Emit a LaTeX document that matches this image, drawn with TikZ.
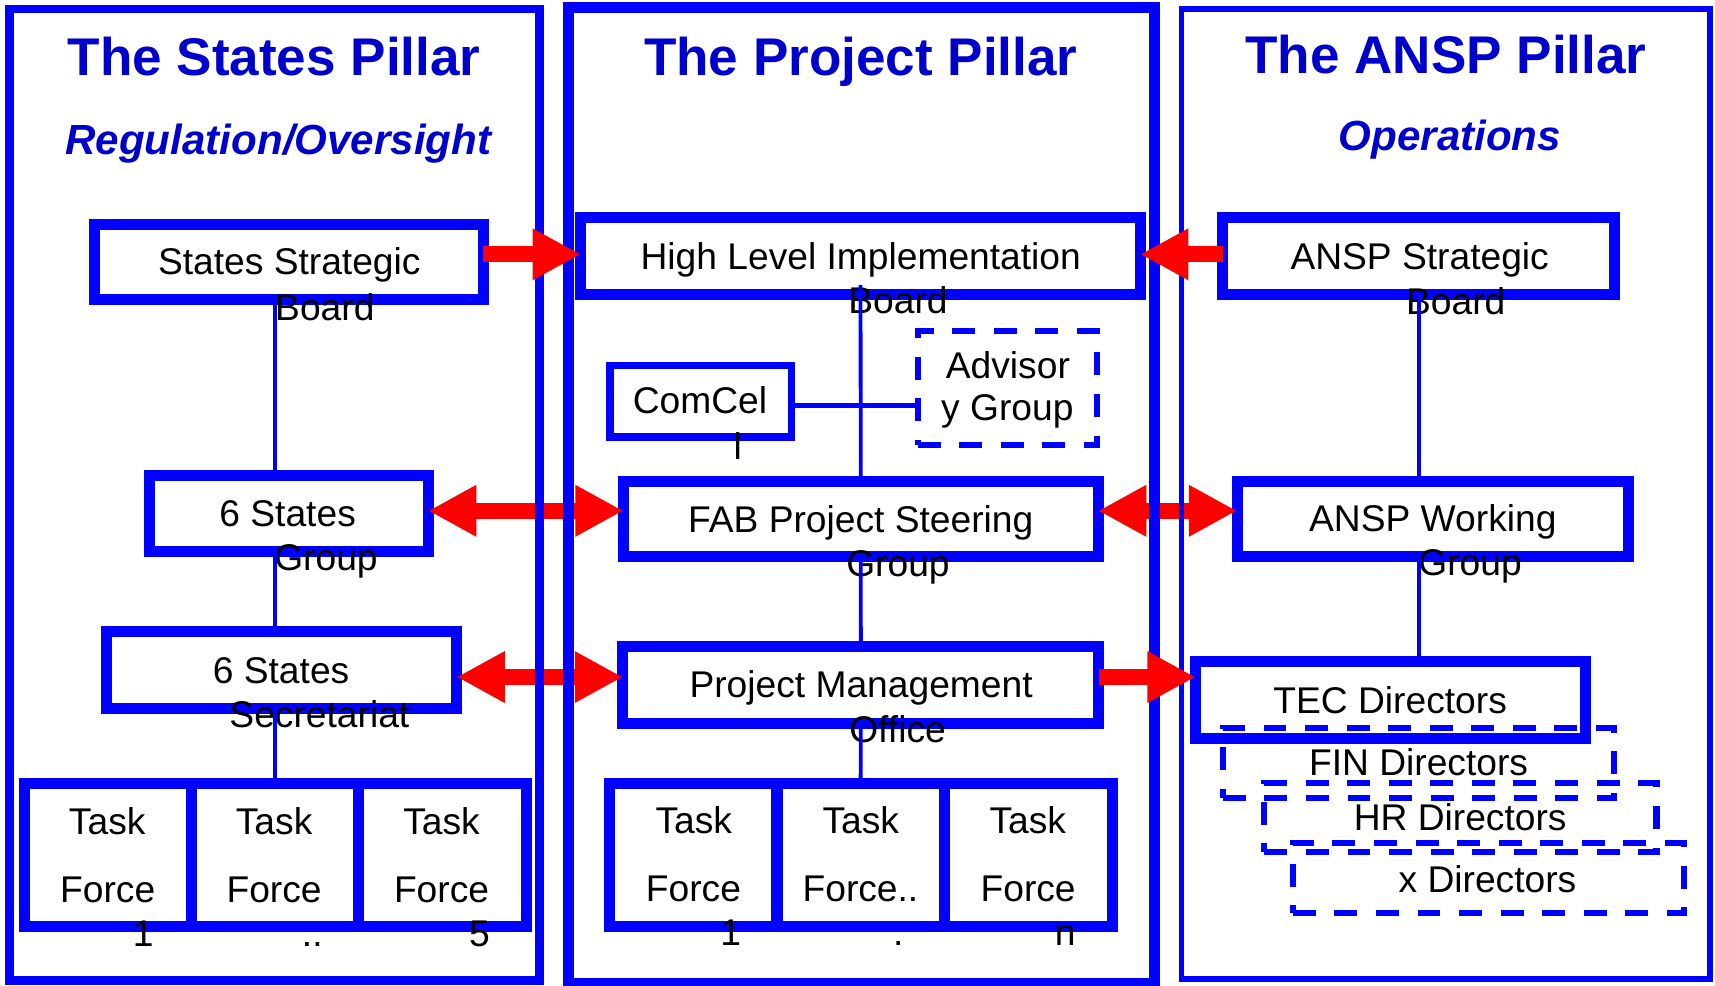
\documentclass[tikz,border=0pt]{standalone}
\usepackage{fontspec}
\setmainfont{Liberation Sans}
\usetikzlibrary{arrows.meta}
\definecolor{bxblue}{RGB}{0,0,255}
\definecolor{ttblue}{RGB}{0,0,204}
\definecolor{arred}{RGB}{255,0,0}
\begin{document}
\begin{tikzpicture}[x=1pt,y=-1pt,
  box/.style={draw=bxblue, line width=10pt, inner sep=0pt, outer sep=0pt},
  thinbox/.style={draw=bxblue, line width=7pt, inner sep=0pt, outer sep=0pt},
  dbox/.style={draw=bxblue, line width=5.5pt, inner sep=0pt, outer sep=0pt, dash pattern=on 21pt off 17pt},
  txt/.style={font=\fontsize{34}{41}\selectfont, anchor=base, inner sep=0pt, text=black},
  ttl/.style={font=\fontsize{48.5}{58}\selectfont\bfseries, anchor=base, inner sep=0pt, text=ttblue},
  sub/.style={font=\fontsize{38.5}{46}\selectfont\bfseries\itshape, anchor=base, inner sep=0pt, text=ttblue},
  conn/.style={draw=bxblue, line width=3.5pt},
  redar/.style={draw=arred, line width=14.5pt, >={Triangle[length=44pt,width=44pt]}},
  pillar/.style={draw=bxblue}
]
\useasboundingbox (0,0) rectangle (1568,900.6);

% ---------- titles ----------
\node[ttl] (t1) at (250.6,68.6) {The States Pillar};
\node[sub] (s1) at (254.5,140.8) {Regulation/Oversight};
\node[ttl] (t2) at (787,68.6) {The Project Pillar};
\node[ttl] (t3) at (1322,67) {The ANSP Pillar};
\node[sub] (s3) at (1325.6,138) {Operations};

% ---------- left pillar boxes ----------
\node[box, minimum width=356pt, minimum height=68.5pt] (ssb) at (264,239.75) {};
\node[box, minimum width=255pt, minimum height=70.1pt] (sg) at (264,469.55) {};
\node[box, minimum width=320pt, minimum height=70pt] (ss) at (257.5,612.5) {};
\node[box, minimum width=153pt, minimum height=131pt] (ltf1) at (98.5,781.5) {};
\node[box, minimum width=153pt, minimum height=131pt] (ltf2) at (251.5,781.5) {};
\node[box, minimum width=153pt, minimum height=131pt] (ltf3) at (404.5,781.5) {};

% ---------- middle pillar boxes ----------
\node[box, minimum width=511.5pt, minimum height=70pt] (hlib) at (786.75,234) {};
\node[thinbox, minimum width=166pt, minimum height=65.2pt] (cc) at (640.5,366.7) {};
\node[dbox, minimum width=164.4pt, minimum height=103.9pt] (adv) at (921.1,354.85) {};
\node[box, minimum width=434pt, minimum height=69.2pt] (fab) at (787,474.4) {};
\node[box, minimum width=435.1pt, minimum height=70.1pt] (pmo) at (787.05,626.55) {};
\node[box, minimum width=153pt, minimum height=130.7pt] (mtf1) at (633.95,781.85) {};
\node[box, minimum width=153pt, minimum height=130.7pt] (mtf2) at (786.85,781.85) {};
\node[box, minimum width=153pt, minimum height=130.7pt] (mtf3) at (940.25,781.85) {};

% ---------- right pillar boxes ----------
\node[box, minimum width=358.5pt, minimum height=70.6pt] (asb) at (1297.25,234.3) {};
\node[box, minimum width=357.6pt, minimum height=69.2pt] (awg) at (1309.8,474.4) {};
\node[dbox, minimum width=358pt, minimum height=64.2pt] (fin) at (1297,697.6) {};
\node[dbox, minimum width=358.5pt, minimum height=63.7pt] (hr) at (1335.25,747.55) {};
\node[dbox, minimum width=357.6pt, minimum height=64pt] (xd) at (1360.8,803) {};
\node[box, minimum width=357pt, minimum height=70pt] (tec) at (1271.5,640) {};

% ---------- texts ----------
\node[txt] (ssbA) at (264.5,251) {States Strategic};
\node[txt] (ssbB) at (297,292.6) {Board};
\node[txt] (sgA) at (263,481.5) {6 States};
\node[txt] (sgB) at (298,522) {Group};
\node[txt] (ssA) at (257,625) {6 States};
\node[txt] (ssB) at (292,665.5) {Secretariat};
\node[txt] (l1a) at (98,763) {Task};
\node[txt] (l2a) at (250.6,763) {Task};
\node[txt] (l3a) at (403.7,763) {Task};
\node[txt] (l1b) at (98.5,824.7) {Force};
\node[txt] (l2b) at (250.6,824.7) {Force};
\node[txt] (l3b) at (403.7,824.7) {Force};
\node[txt] (l1c) at (131,865.3) {1};
\node[txt] (l2c) at (285.5,865.3) {..};
\node[txt] (l3c) at (438.4,865.3) {5};

\node[txt] (hlA) at (787,246) {High Level Implementation};
\node[txt] (hlB) at (821,287) {Board};
\node[txt] (ccA) at (640,378.4) {ComCel};
\node[txt] (ccB) at (674.6,419.7) {l};
\node[txt] (adA) at (921.5,346.5) {Advisor};
\node[txt] (adB) at (921,384.6) {y Group};
\node[txt] (fbA) at (787,487) {FAB Project Steering};
\node[txt] (fbB) at (821,527.5) {Group};
\node[txt] (pmA) at (787.3,637.4) {Project Management};
\node[txt] (pmB) at (820.6,678.8) {Office};
\node[txt] (m1a) at (634.3,762.4) {Task};
\node[txt] (m2a) at (787,762.4) {Task};
\node[txt] (m3a) at (939.7,762.4) {Task};
\node[txt] (m1b) at (634,824.2) {Force};
\node[txt] (m2b) at (786.7,824.2) {Force..};
\node[txt] (m3b) at (940,824.2) {Force};
\node[txt] (m1c) at (668,864.4) {1};
\node[txt] (m2c) at (821.2,864.4) {.};
\node[txt] (m3c) at (973.8,864.4) {n};

\node[txt] (asA) at (1298,246.6) {ANSP Strategic};
\node[txt] (asB) at (1331,287.6) {Board};
\node[txt] (awA) at (1310,486) {ANSP Working};
\node[txt] (awB) at (1344,526.5) {Group};
\node[txt] (tecA) at (1271,652) {TEC Directors};
\node[txt] (finA) at (1297,709) {FIN Directors};
\node[txt] (hrA) at (1335,759.6) {HR Directors};
\node[txt] (xdA) at (1360,816) {x Directors};

% ---------- blue connectors ----------
\draw[conn] (ssb.south -| ltf2.north) -- (sg.north -| ltf2.north);
\draw[conn] (sg.south -| ltf2.north) -- (ss.north -| ltf2.north);
\draw[conn] (ss.south -| ltf2.north) -- (ltf2.north);

\draw[conn] ([yshift=8.5pt]hlib.south) -- (fab.north);
\draw[conn] (fab.south) -- (pmo.north);
\draw[conn] (pmo.south) -- (mtf2.north);
\coordinate (lv4) at (0,371);
\draw[conn, line width=4.5pt] (cc.east |- lv4) -- (adv.west |- lv4);

\draw[conn] (asb.south) -- (awg.north -| asb.south);
\draw[conn] (awg.south -| asb.south) -- (tec.north -| asb.south);

% ---------- red double arrows (under the pillar frames) ----------
\coordinate (lv1) at (0,232.5);
\coordinate (lv2) at (0,467);
\coordinate (lv3) at (0,619);
\draw[redar,<->] (sg.east |- lv2) -- (fab.west |- lv2);
\draw[redar,<->] (fab.east |- lv2) -- (awg.west |- lv2);
\draw[redar,<->] (ss.east |- lv3) -- (pmo.west |- lv3);

% ---------- pillars ----------
\draw[pillar, line width=7.5pt] (8.7,8.4) rectangle (493.2,896.5);
\draw[pillar, line width=10pt] (519.4,6.5) rectangle (1055.3,899);
\draw[pillar, line width=5.3pt] (1080.2,7.9) rectangle (1563.3,895);

% ---------- red single arrows (over the pillar frames) ----------
\draw[redar,->] (ssb.east |- lv1) -- (hlib.west |- lv1);
\draw[redar,->] (asb.west |- lv1) -- (hlib.east |- lv1);
\draw[redar,->] (pmo.east |- lv3) -- (tec.west |- lv3);
\end{tikzpicture}
\end{document}
